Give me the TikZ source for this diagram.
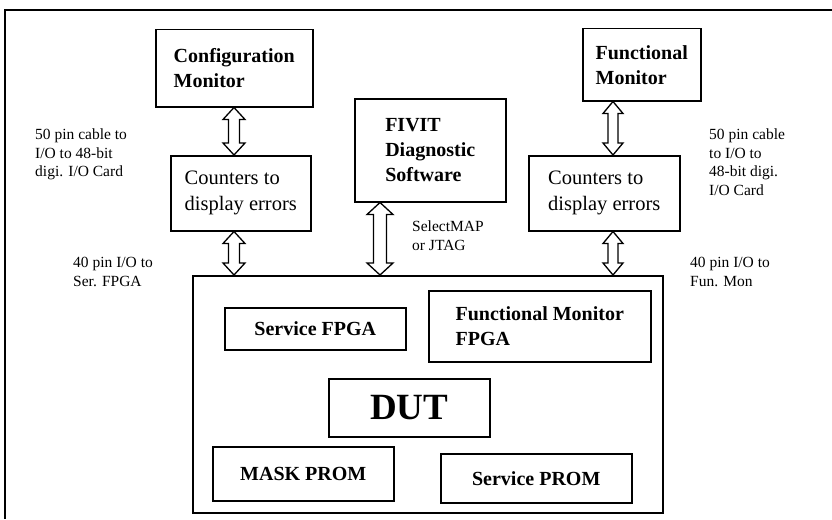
\documentclass[tikz,border=0pt]{standalone}
\usepackage{fontspec}
\setmainfont{Liberation Serif}
\usetikzlibrary{calc}
\tikzset{x=1pt, y=-1pt, % pixel units, y pointing down
box/.style={ % Sets the properties for each block
draw, line width=1.5pt,
anchor=north west, align=left,
inner sep=0pt},
txt/.style={font=\fontsize{20.5}{26}\selectfont},
btxt/.style={font=\fontsize{20}{25}\selectfont\bfseries},
lbl/.style={ % Small cable labels
anchor=north west, align=left, inner sep=0pt,
font=\fontsize{15.5}{18.5}\selectfont},
bus/.style={draw, line width=1.3pt, fill=white, line join=miter}}
% hollow double arrow at x=#2 from node #3 down to node #4
\newcommand{\busarrow}[4][11]{%
  \draw[bus] (#2,0 |- #3.south) -- ++(#1,12) -- ++(-#1/2,0)
    -- ($(#2,0 |- #4.north)+(#1/2,-12)$) -- ++(#1/2,0) -- (#2,0 |- #4.north)
    -- ++(-#1,-12) -- ++(#1/2,0)
    -- ($(#2,0 |- #3.south)+(-#1/2,12)$) -- ++(-#1/2,0) -- cycle;}

\begin{document}
\begin{tikzpicture}
    \useasboundingbox (0,0) rectangle (832,519);
    \draw[line width=1.5pt] (832,10) -- (5,10) -- (5,519);

    \node[box, btxt, minimum width=157, minimum height=77] (cfgmon) at (155,29) {Configuration\\Monitor};
    \node[box, txt, minimum width=140, minimum height=75] (cntl) at (170,155) {Counters to\\display errors};
    \node[box, btxt, minimum width=151, minimum height=103] (fivit) at (354,98) {FIVIT\\Diagnostic\\Software};
    \node[box, btxt, minimum width=118, minimum height=72] (funmon) at (582,28) {Functional\\Monitor};
    \node[box, txt, minimum width=151, minimum height=75] (cntr) at (528,155) {Counters to\\display errors};

    \node[box, minimum width=470, minimum height=237] (board) at (192,275) {};
    \node[box, btxt, minimum width=181, minimum height=42] (srvfpga) at (224,307) {Service FPGA};
    \node[box, btxt, minimum width=222, minimum height=71] (fmfpga) at (428,290) {Functional Monitor\\FPGA};
    \node[box, font=\fontsize{37}{40}\selectfont\bfseries, minimum width=161, minimum height=58] (dut) at (328,378) {DUT};
    \node[box, btxt, minimum width=181, minimum height=54] (mask) at (212,446) {MASK PROM};
    \node[box, btxt, minimum width=191, minimum height=49] (srvprom) at (440,453) {Service PROM};

    \busarrow{234}{cfgmon}{cntl}
    \busarrow{234}{cntl}{board}
    \busarrow[13]{380}{fivit}{board}
    \busarrow[10]{613}{funmon}{cntr}
    \busarrow[10]{613}{cntr}{board}

    \node[lbl] (cab1) at (35,129) {50 pin cable to\\I/O to 48-bit\\digi. I/O Card};
    \node[lbl] (ser) at (73,257) {40 pin I/O to\\Ser. FPGA};
    \node[lbl] (sel) at (412,221) {SelectMAP\\or JTAG};
    \node[lbl] (cab2) at (709,129) {50 pin cable\\to I/O to\\48-bit digi.\\I/O Card};
    \node[lbl] (fun) at (690,257) {40 pin I/O to\\Fun. Mon};

\end{tikzpicture}
\end{document}
